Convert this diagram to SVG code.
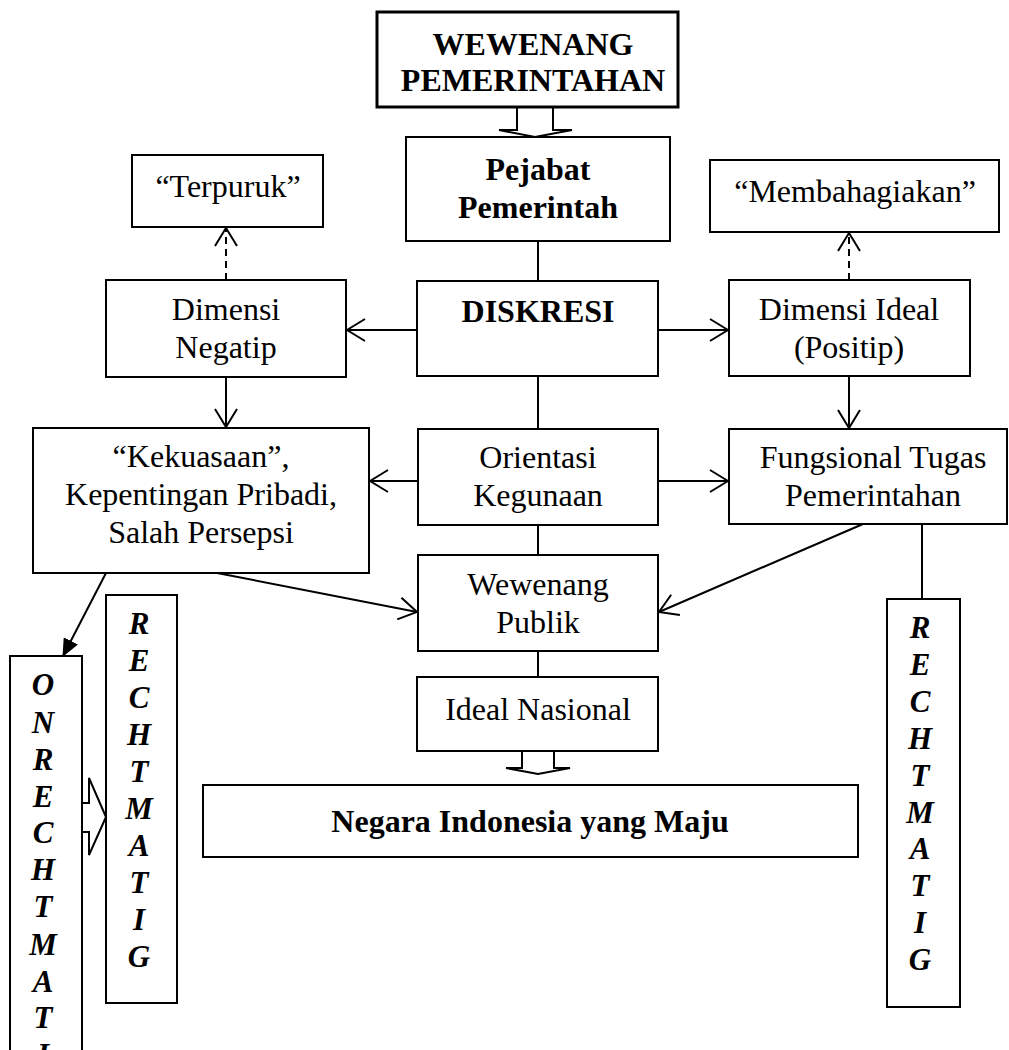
<svg xmlns="http://www.w3.org/2000/svg" width="1009" height="1050" viewBox="0 0 1009 1050">
<style>
text{font-family:"Liberation Serif","Times New Roman",serif;font-size:32px;fill:#000;text-anchor:middle}
.b{font-weight:bold}
.v{font-weight:bold;font-style:italic;font-size:31px}
rect{fill:#fff;stroke:#000;stroke-width:2}
.c{fill:none;stroke:#000;stroke-width:2}
.d{stroke-dasharray:7 5}
.blk{fill:#fff;stroke:#000;stroke-width:2;stroke-linejoin:miter}
</style>
<defs>
<marker id="v" viewBox="0 0 20 24" markerWidth="20" markerHeight="24" refX="19" refY="12" orient="auto" markerUnits="userSpaceOnUse">
<path d="M1,1 L19,12 L1,23" fill="none" stroke="#000" stroke-width="2"/>
</marker>
<marker id="f" viewBox="0 0 18 16" markerWidth="18" markerHeight="16" refX="17" refY="8" orient="auto" markerUnits="userSpaceOnUse">
<path d="M0,0 L18,8 L0,16 z" fill="#000"/>
</marker>
</defs>
<rect x="0" y="0" width="1009" height="1050" style="stroke:none;fill:#fff"/>
<g id="connectors">
<path class="blk" d="M517,107 V130 H499 L535,137 L572,130 H553 V107"/>
<path class="blk" d="M522,751 V768 H506 L538,774 L570,768 H554 V751"/>
<path class="blk" d="M82,803 H89 V778 L106,817 L89,855 V832 H82"/>
<path class="c" d="M538,241 V281"/>
<path class="c" d="M417,330 H347" marker-end="url(#v)"/>
<path class="c" d="M658,330 H728" marker-end="url(#v)"/>
<path class="c d" d="M226,280 V228" marker-end="url(#v)"/>
<path class="c d" d="M849,280 V233" marker-end="url(#v)"/>
<path class="c" d="M226,377 V427" marker-end="url(#v)"/>
<path class="c" d="M849,376 V428" marker-end="url(#v)"/>
<path class="c" d="M538,376 V429"/>
<path class="c" d="M418,481 H370" marker-end="url(#v)"/>
<path class="c" d="M658,481 H728" marker-end="url(#v)"/>
<path class="c" d="M538,525 V555"/>
<path class="c" d="M217,573 L417,612" marker-end="url(#v)"/>
<path class="c" d="M863,524 L659,612" marker-end="url(#v)"/>
<path class="c" d="M538,651 V677"/>
<path class="c" d="M106,573 L63,656" marker-end="url(#f)"/>
<path class="c" d="M922,524 V599"/>
</g>
<g id="wewenang-pemerintahan">
<rect x="377" y="12" width="301" height="95" style="stroke-width:3"/>
<text class="b" x="533" y="55">WEWENANG</text>
<text class="b" x="533" y="91">PEMERINTAHAN</text>
</g>
<g id="pejabat">
<rect x="406" y="137" width="264" height="104"/>
<text class="b" x="538" y="180">Pejabat</text>
<text class="b" x="538" y="218">Pemerintah</text>
</g>
<g id="terpuruk">
<rect x="132" y="155" width="191" height="72"/>
<text x="228" y="197">“Terpuruk”</text>
</g>
<g id="membahagiakan">
<rect x="710" y="160" width="289" height="72"/>
<text x="855" y="202">“Membahagiakan”</text>
</g>
<g id="dimensi-negatip">
<rect x="106" y="280" width="240" height="97"/>
<text x="226" y="320">Dimensi</text>
<text x="226" y="358">Negatip</text>
</g>
<g id="diskresi">
<rect x="417" y="281" width="241" height="95"/>
<text class="b" x="538" y="322">DISKRESI</text>
</g>
<g id="dimensi-ideal">
<rect x="729" y="280" width="241" height="96"/>
<text x="849" y="320">Dimensi Ideal</text>
<text x="849" y="358">(Positip)</text>
</g>
<g id="kekuasaan">
<rect x="33" y="428" width="336" height="145"/>
<text x="201" y="467">“Kekuasaan”,</text>
<text x="201" y="505">Kepentingan Pribadi,</text>
<text x="201" y="543">Salah Persepsi</text>
</g>
<g id="orientasi">
<rect x="418" y="429" width="240" height="96"/>
<text x="538" y="468">Orientasi</text>
<text x="538" y="506">Kegunaan</text>
</g>
<g id="fungsional">
<rect x="729" y="429" width="278" height="95"/>
<text x="873" y="468">Fungsional Tugas</text>
<text x="873" y="506">Pemerintahan</text>
</g>
<g id="wewenang-publik">
<rect x="418" y="555" width="240" height="96"/>
<text x="538" y="595">Wewenang</text>
<text x="538" y="633">Publik</text>
</g>
<g id="ideal-nasional">
<rect x="417" y="677" width="241" height="74"/>
<text x="538" y="720">Ideal Nasional</text>
</g>
<g id="negara">
<rect x="203" y="785" width="655" height="72"/>
<text class="b" x="530" y="832">Negara Indonesia yang Maju</text>
</g>
<g id="onrechtmatig">
<rect x="10" y="656" width="72" height="420"/>
<text class="v" x="43" y="695">O</text>
<text class="v" x="43" y="733">N</text>
<text class="v" x="43" y="770">R</text>
<text class="v" x="43" y="807">E</text>
<text class="v" x="43" y="843">C</text>
<text class="v" x="43" y="880">H</text>
<text class="v" x="43" y="917">T</text>
<text class="v" x="43" y="955">M</text>
<text class="v" x="43" y="992">A</text>
<text class="v" x="43" y="1028">T</text>
<text class="v" x="43" y="1065">I</text>
</g>
<g id="rechtmatig-left">
<rect x="106" y="595" width="71" height="408"/>
<text class="v" x="139" y="634">R</text>
<text class="v" x="139" y="671">E</text>
<text class="v" x="139" y="708">C</text>
<text class="v" x="139" y="745">H</text>
<text class="v" x="139" y="782">T</text>
<text class="v" x="139" y="819">M</text>
<text class="v" x="139" y="856">A</text>
<text class="v" x="139" y="893">T</text>
<text class="v" x="139" y="930">I</text>
<text class="v" x="139" y="967">G</text>
</g>
<g id="rechtmatig-right">
<rect x="887" y="599" width="73" height="408"/>
<text class="v" x="920" y="638">R</text>
<text class="v" x="920" y="675">E</text>
<text class="v" x="920" y="712">C</text>
<text class="v" x="920" y="749">H</text>
<text class="v" x="920" y="786">T</text>
<text class="v" x="920" y="823">M</text>
<text class="v" x="920" y="859">A</text>
<text class="v" x="920" y="896">T</text>
<text class="v" x="920" y="933">I</text>
<text class="v" x="920" y="970">G</text>
</g>
</svg>
